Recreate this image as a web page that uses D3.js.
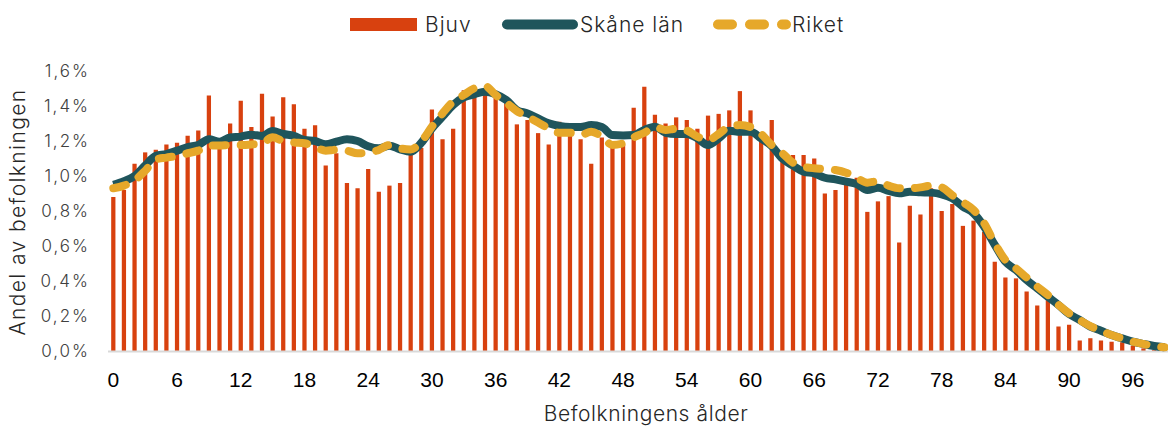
<!DOCTYPE html>
<html>
<head>
<meta charset="utf-8">
<script src="https://cdn.jsdelivr.net/npm/d3@7"></script>
<style>
  body { margin: 0; background: #fff; }
  svg { display: block; }
  .light { font-family: Inter, "Open Sans", sans-serif; font-weight: 300; }
</style>
</head>
<body>
<svg id="chart" width="1168" height="428"></svg>
<script>
// ages 0..99
const ages = d3.range(0, 100);
const xTicks = d3.range(0, 97, 6);
const yTicks = [0, 0.2, 0.4, 0.6, 0.8, 1.0, 1.2, 1.4, 1.6];

// share of population in %
const bjuv = [
  0.88, 0.92, 1.07, 1.135, 1.15, 1.18, 1.19, 1.23, 1.26, 1.46,
  1.18, 1.30, 1.43, 1.28, 1.47, 1.34, 1.45, 1.41, 1.27, 1.29,
  1.06, 1.13, 0.96, 0.93, 1.04, 0.91, 0.945, 0.96, 1.13, 1.16,
  1.38, 1.21, 1.27, 1.49, 1.47, 1.47, 1.45, 1.415, 1.295, 1.32,
  1.245, 1.18, 1.31, 1.23, 1.21, 1.07, 1.22, 1.16, 1.18, 1.39,
  1.51, 1.35, 1.30, 1.335, 1.32, 1.27, 1.345, 1.355, 1.375, 1.485,
  1.375, 1.20, 1.32, 1.10, 1.12, 1.12, 1.10, 0.90, 0.92, 0.96,
  0.99, 0.795, 0.855, 0.885, 0.62, 0.83, 0.78, 0.93, 0.80, 0.84,
  0.715, 0.745, 0.68, 0.51, 0.42, 0.415, 0.34, 0.26, 0.29, 0.14,
  0.15, 0.06, 0.073, 0.06, 0.053, 0.05, 0.03, 0.015, 0.008, 0.004
];
const skane = [
  0.95, 0.97, 1.00, 1.06, 1.115, 1.125, 1.145, 1.165, 1.177, 1.21,
  1.196, 1.22, 1.225, 1.236, 1.229, 1.257, 1.24, 1.229, 1.206, 1.2,
  1.181, 1.196, 1.21, 1.2, 1.17, 1.158, 1.173, 1.152, 1.139, 1.19,
  1.272, 1.339, 1.406, 1.449, 1.467, 1.482, 1.467, 1.434, 1.377, 1.358,
  1.329, 1.301, 1.286, 1.28, 1.28, 1.291, 1.28, 1.234, 1.232, 1.234,
  1.263, 1.282, 1.247, 1.24, 1.24, 1.215, 1.177, 1.215, 1.259, 1.253,
  1.253, 1.215, 1.171, 1.10, 1.059, 1.025, 1.015, 0.99, 0.981, 0.968,
  0.954, 0.92, 0.933, 0.915, 0.901, 0.91, 0.907, 0.905, 0.895, 0.872,
  0.825, 0.787, 0.71, 0.606, 0.51, 0.463, 0.406, 0.358, 0.31, 0.263,
  0.211, 0.177, 0.139, 0.116, 0.091, 0.072, 0.053, 0.04, 0.029, 0.021
];
const riket = [
  0.93, 0.945, 0.975, 1.03, 1.095, 1.105, 1.115, 1.13, 1.145, 1.175,
  1.175, 1.177, 1.177, 1.18, 1.187, 1.221, 1.2, 1.192, 1.187, 1.165,
  1.145, 1.15, 1.145, 1.13, 1.133, 1.149, 1.177, 1.158, 1.152, 1.196,
  1.282, 1.358, 1.425, 1.463, 1.501, 1.514, 1.463, 1.419, 1.371, 1.339,
  1.306, 1.272, 1.247, 1.247, 1.234, 1.253, 1.225, 1.177, 1.187, 1.221,
  1.247, 1.28, 1.263, 1.27, 1.26, 1.225, 1.206, 1.24, 1.282, 1.291,
  1.28, 1.24, 1.177, 1.13, 1.076, 1.053, 1.044, 1.04, 1.034, 1.019,
  0.99, 0.962, 0.97, 0.945, 0.93, 0.93, 0.935, 0.945, 0.935, 0.89,
  0.85, 0.806, 0.73, 0.615, 0.52, 0.472, 0.42, 0.368, 0.32, 0.263,
  0.215, 0.177, 0.142, 0.116, 0.091, 0.072, 0.053, 0.04, 0.029, 0.021
];

const colBar = '#d8410f', colSkane = '#1f555c', colRiket = '#e6a82a';

const svg = d3.select('#chart');
const plot = { left: 108, right: 1170, top: 71, bottom: 351 };

const x = d3.scaleBand()
    .domain(ages)
    .range([plot.left, plot.right])
    .paddingInner(0.6)
    .paddingOuter(0.3);
const y = d3.scaleLinear()
    .domain([0, 1.6])
    .range([plot.bottom, plot.top]);
const cx = a => x(a) + x.bandwidth() / 2;

// y axis
const yAxis = d3.axisLeft(y)
    .tickValues(yTicks)
    .tickSize(0)
    .tickPadding(0)
    .tickFormat(d => d3.format('.1f')(d).replace('.', ',') + '%');
svg.append('g')
    .attr('transform', `translate(90,0)`)
    .call(yAxis)
    .call(g => g.select('.domain').remove())
    .call(g => g.selectAll('text')
        .attr('class', 'light')
        .attr('font-size', 17)
        .attr('letter-spacing', 2)
        .attr('fill', '#404040'));

// x axis
const xAxis = d3.axisBottom(x)
    .tickValues(xTicks)
    .tickSize(0)
    .tickPadding(0);
svg.append('g')
    .attr('transform', `translate(0,${plot.bottom + 21})`)
    .call(xAxis)
    .call(g => g.select('.domain').remove())
    .call(g => g.selectAll('text')
        .attr('font-family', '"Liberation Sans", Arial, sans-serif')
        .attr('font-size', 21)
        .attr('fill', '#000'));

// bars
svg.append('g').selectAll('rect')
    .data(ages)
    .join('rect')
    .attr('x', d => x(d))
    .attr('y', d => y(bjuv[d]))
    .attr('width', x.bandwidth())
    .attr('height', d => y(0) - y(bjuv[d]))
    .attr('fill', colBar);

// baseline
svg.append('line')
    .attr('x1', plot.left).attr('x2', plot.right)
    .attr('y1', y(0) + 0.5).attr('y2', y(0) + 0.5)
    .attr('stroke', '#d9d9d9')
    .attr('stroke-width', 2);

const line = d3.line()
    .x(d => cx(d[0]))
    .y(d => y(d[1]))
    .curve(d3.curveMonotoneX);

svg.append('path')
    .datum(ages.map(a => [a, skane[a]]))
    .attr('d', line)
    .attr('fill', 'none')
    .attr('stroke', colSkane)
    .attr('stroke-width', 8)
    .attr('stroke-linejoin', 'round');

svg.append('path')
    .datum(ages.map(a => [a, riket[a]]))
    .attr('d', line)
    .attr('fill', 'none')
    .attr('stroke', colRiket)
    .attr('stroke-width', 8)
    .attr('stroke-linecap', 'round')
    .attr('stroke-dasharray', '13,15');

// axis titles
svg.append('text')
    .attr('class', 'light')
    .attr('x', 646)
    .attr('y', 421)
    .attr('text-anchor', 'middle')
    .attr('font-size', 21)
    .attr('letter-spacing', 0.6)
    .attr('fill', '#262626')
    .text('Befolkningens ålder');

svg.append('text')
    .attr('class', 'light')
    .attr('transform', 'translate(25,212) rotate(-90)')
    .attr('text-anchor', 'middle')
    .attr('font-size', 21)
    .attr('letter-spacing', 1.4)
    .attr('fill', '#262626')
    .text('Andel av befolkningen');

// legend
const lg = svg.append('g');
lg.append('rect')
    .attr('x', 350).attr('y', 18)
    .attr('width', 67).attr('height', 13)
    .attr('fill', colBar);
lg.append('line')
    .attr('x1', 507).attr('x2', 573)
    .attr('y1', 24.5).attr('y2', 24.5)
    .attr('stroke', colSkane)
    .attr('stroke-width', 10)
    .attr('stroke-linecap', 'round');
lg.append('line')
    .attr('x1', 718).attr('x2', 786)
    .attr('y1', 24.5).attr('y2', 24.5)
    .attr('stroke', colRiket)
    .attr('stroke-width', 10)
    .attr('stroke-linecap', 'round')
    .attr('stroke-dasharray', '14,18');

const legendText = [['Bjuv', 425], ['Skåne län', 580], ['Riket', 792]];
lg.selectAll('text.leg')
    .data(legendText)
    .join('text')
    .attr('class', 'light leg')
    .attr('x', d => d[1])
    .attr('y', 32)
    .attr('font-size', 21)
    .attr('letter-spacing', 1)
    .attr('fill', '#262626')
    .text(d => d[0]);
</script>
</body>
</html>
